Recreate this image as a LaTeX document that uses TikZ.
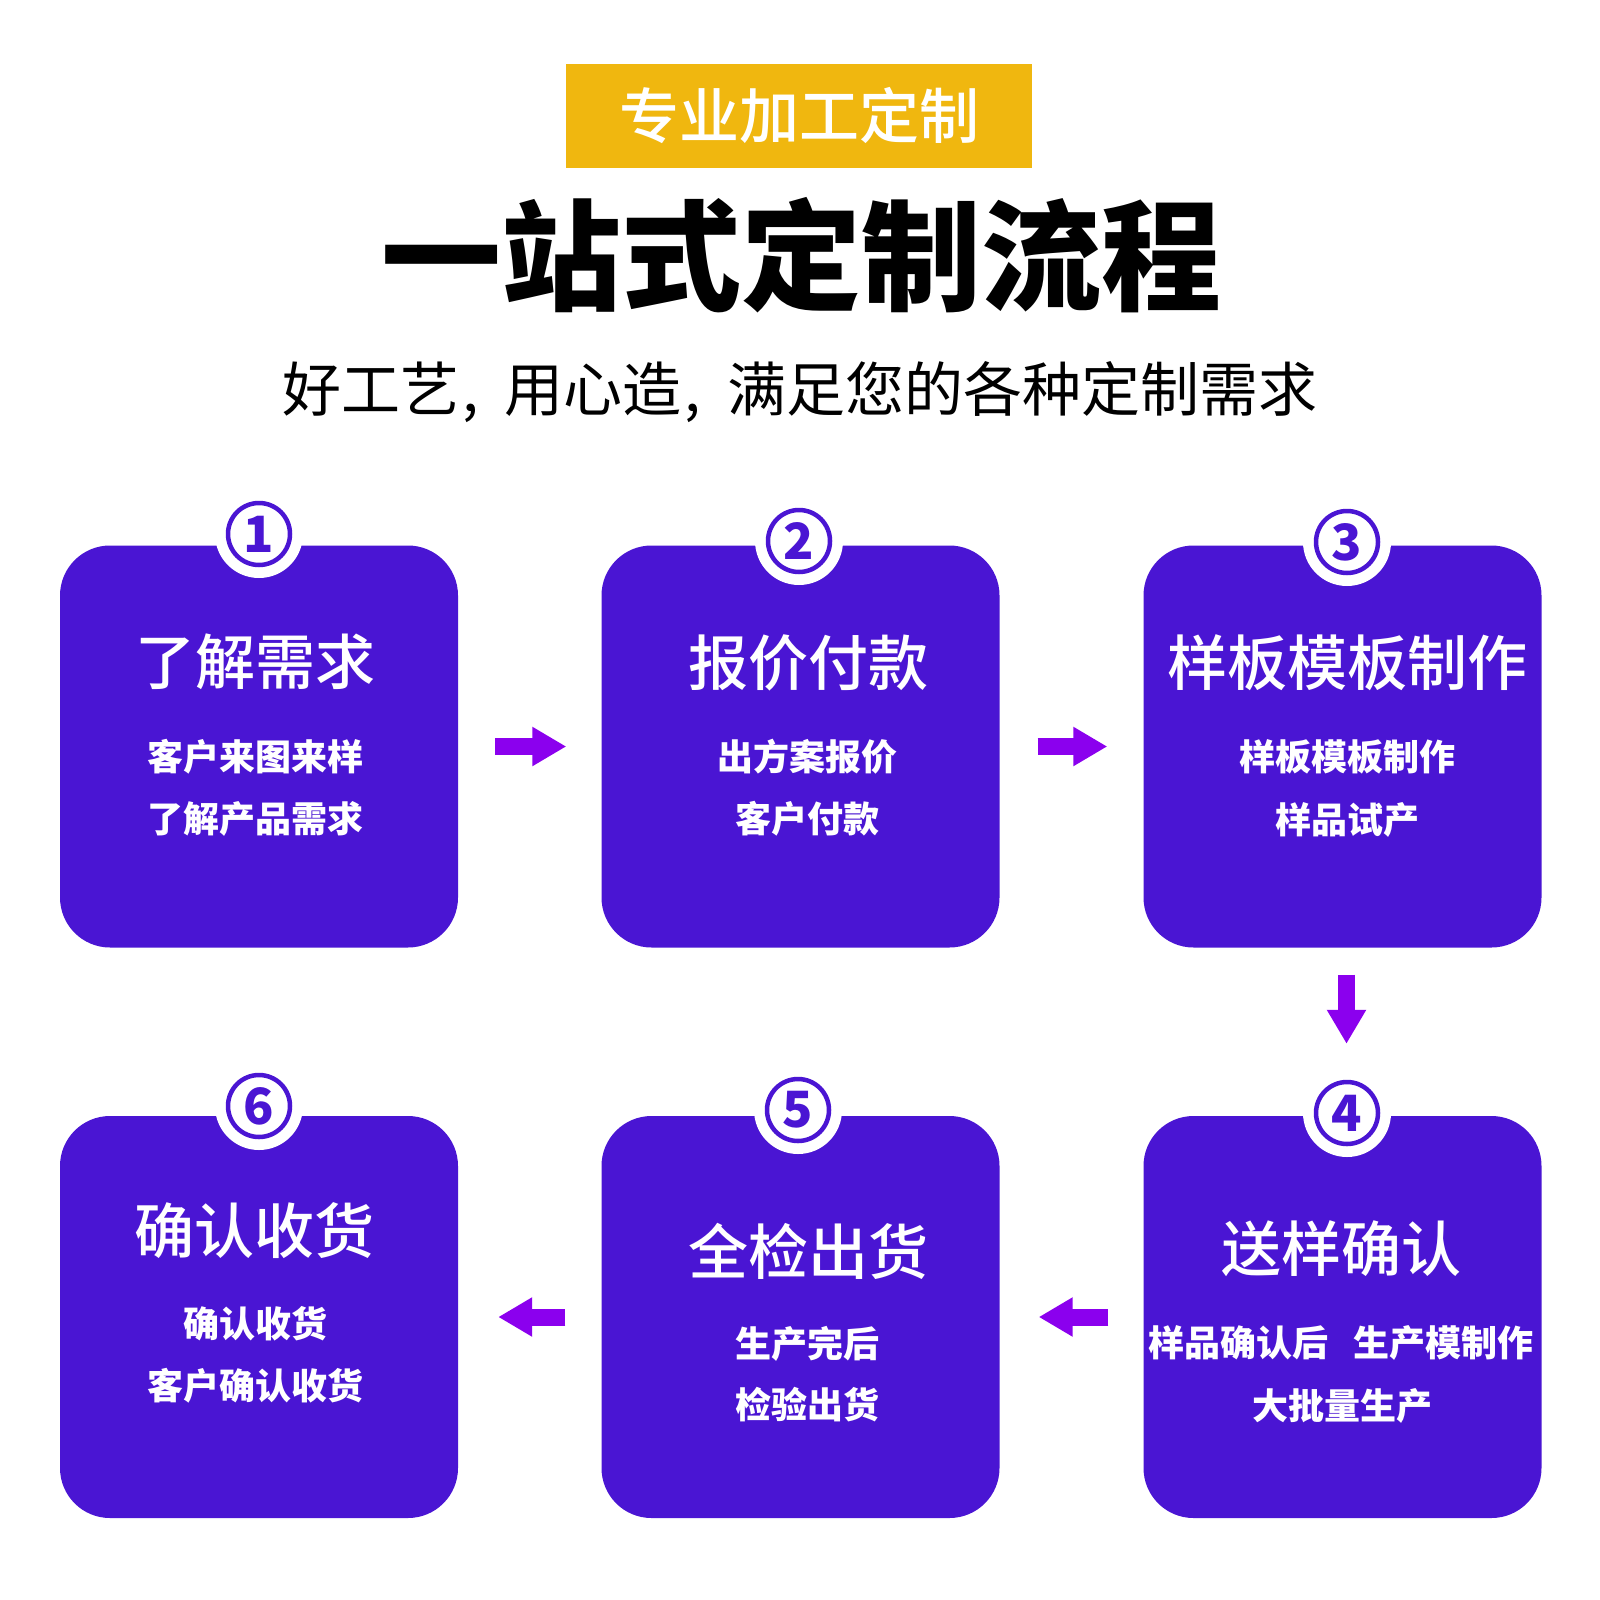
\documentclass[tikz,border=0pt]{standalone}
\usepackage{fontspec}
\usetikzlibrary{arrows.meta}
\newfontfamily\cjk{Noto Sans CJK SC}
\newfontfamily\cjkmed{Noto Sans CJK SC Medium}
\definecolor{boxpurple}{RGB}{74,21,211}
\definecolor{arrowpurple}{RGB}{139,0,238}
\definecolor{headyellow}{RGB}{240,183,15}
\newcommand{\subsep}{\kern3pt,\hspace{0.45em}}
\tikzset{
  stepbox/.style={fill=boxpurple, draw=none, rounded corners=50pt, minimum width=398pt, minimum height=402pt, inner sep=0pt},
  badge/.style={circle, fill=white, minimum size=88pt, inner sep=0pt},
  badgering/.style={circle, draw=boxpurple, line width=4.5pt, minimum size=62pt, inner sep=0pt, text=boxpurple, font=\cjk\bfseries\fontsize{50}{50}\selectfont},
  boxtitle/.style={text=white, inner sep=0pt, font=\cjkmed\fontsize{60}{60}\selectfont},
  boxline/.style={text=white, inner sep=0pt, font=\cjk\bfseries\fontsize{36}{36}\selectfont},
  fatarrow/.style={draw=arrowpurple, line width=17pt, -{Triangle[width=37pt,length=34pt]}},
}
\begin{document}
\begin{tikzpicture}[x=1pt,y=-1pt]
\useasboundingbox (0,0) rectangle (1600,1600);
% header
\node[fill=headyellow, minimum width=466pt, minimum height=104pt, inner sep=0pt] (head) at (799,116) {};
\node[text=white, inner sep=0pt, font=\cjkmed\fontsize{60}{60}\selectfont] (headtxt) at (head.center) {专业加工定制};
\node[text=black, inner sep=0pt, font=\cjk\bfseries\fontsize{120}{120}\selectfont] (title) at (801,255) {一站式定制流程};
\node[text=black, inner sep=0pt, font=\cjk\fontsize{59}{59}\selectfont] (sub) at (800,392) {好工艺\subsep 用心造\subsep 满足您的各种定制需求};
% boxes
\node[stepbox] (b1) at (259,746.5) {};
\node[stepbox] (b2) at (800.5,746.5) {};
\node[stepbox] (b3) at (1342.5,746.5) {};
\node[stepbox] (b4) at (1342.5,1317) {};
\node[stepbox] (b5) at (800.5,1317) {};
\node[stepbox] (b6) at (259,1317) {};
% badges
\node[badge] (c1w) at (259,534) {};
\node[badgering] (c1) at (c1w.center) {1};
\node[badge] (c2w) at (799,541) {};
\node[badgering] (c2) at (c2w.center) {2};
\node[badge] (c3w) at (1347,542) {};
\node[badgering] (c3) at (c3w.center) {3};
\node[badge] (c4w) at (1347,1113) {};
\node[badgering] (c4) at (c4w.center) {4};
\node[badge] (c5w) at (798,1110) {};
\node[badgering] (c5) at (c5w.center) {5};
\node[badge] (c6w) at (259,1106) {};
\node[badgering] (c6) at (c6w.center) {6};
% box texts
\node[boxtitle] (t1) at (255,662) {了解需求};
\node[boxline] (t1a) at (255,757) {客户来图来样};
\node[boxline] (t1b) at (255,819) {了解产品需求};
\node[boxtitle] (t2) at (808,663) {报价付款};
\node[boxline] (t2a) at (807,757) {出方案报价};
\node[boxline] (t2b) at (807,819) {客户付款};
\node[boxtitle] (t3) at (1347,663) {样板模板制作};
\node[boxline] (t3a) at (1347,757) {样板模板制作};
\node[boxline] (t3b) at (1347,820) {样品试产};
\node[boxtitle] (t4) at (1341,1249) {送样确认};
\node[boxline] (t4a) at (1341,1343) {样品确认后\hspace{0.7em}生产模制作};
\node[boxline] (t4b) at (1342,1406) {大批量生产};
\node[boxtitle] (t5) at (808,1251) {全检出货};
\node[boxline] (t5a) at (807,1344) {生产完后};
\node[boxline] (t5b) at (807,1405) {检验出货};
\node[boxtitle] (t6) at (254,1231) {确认收货};
\node[boxline] (t6a) at (255,1324) {确认收货};
\node[boxline] (t6b) at (255,1386) {客户确认收货};
% connectors
\draw[fatarrow] ([xshift=37pt]b1.east) -- ([xshift=-35pt]b2.west);
\draw[fatarrow] ([xshift=38pt]b2.east) -- ([xshift=-36pt]b3.west);
\draw[fatarrow] ([xshift=4pt,yshift=-27pt]b3.south) -- ([xshift=4pt,yshift=72pt]b4.north);
\draw[fatarrow] ([xshift=-35pt]b4.west) -- ([xshift=39pt]b5.east);
\draw[fatarrow] ([xshift=-36pt]b5.west) -- ([xshift=40pt]b6.east);
\end{tikzpicture}
\end{document}
